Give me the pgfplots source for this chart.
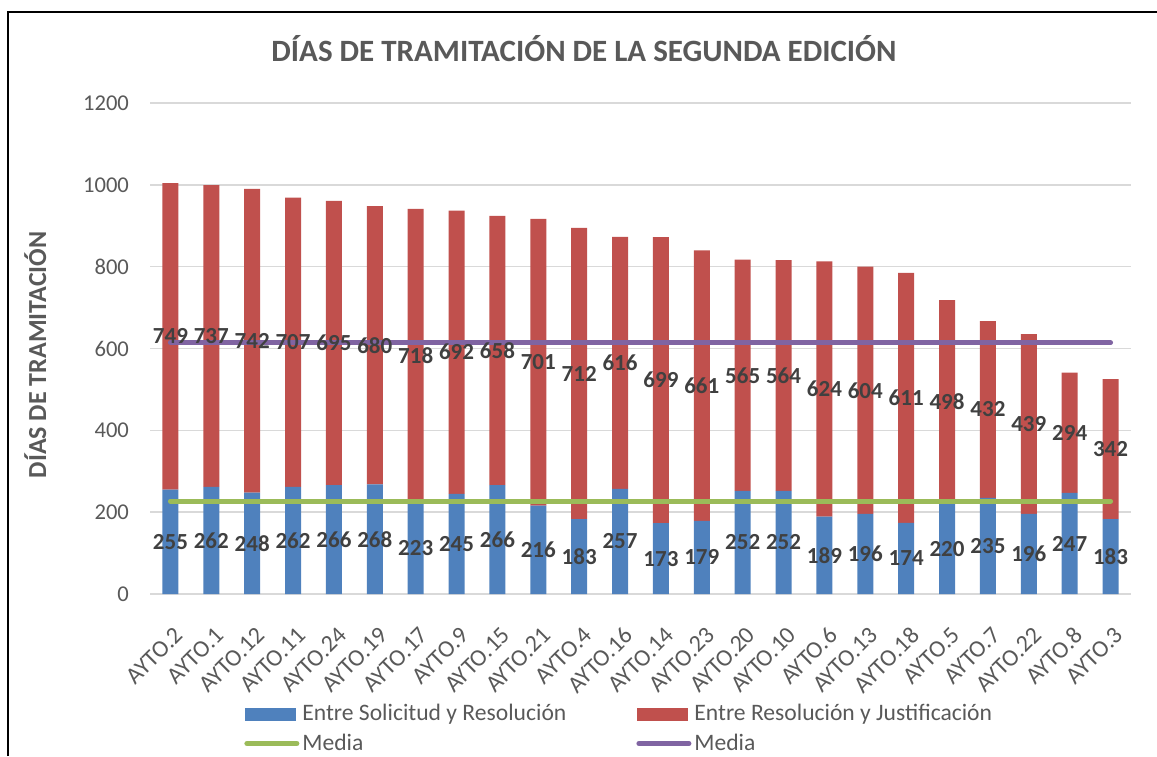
\documentclass[border=0pt]{standalone}
\usepackage{pgfplots}
\usepackage{pgfplotstable}
\pgfplotsset{compat=1.18}
\usepackage{fontspec}
\setmainfont{Carlito}

\definecolor{cblue}{HTML}{4F81BD}
\definecolor{cred}{HTML}{C0504D}
\definecolor{cgreen}{HTML}{9BBB59}
\definecolor{cpurple}{HTML}{8064A2}
\definecolor{txtgray}{HTML}{595959}
\definecolor{lblgray}{HTML}{404040}
\definecolor{gridgray}{HTML}{D9D9D9}

% dias entre solicitud-resolucion (sol) y resolucion-justificacion (jus)
\pgfplotstableread{
x name sol jus
0 AYTO.2 255 749
1 AYTO.1 262 737
2 AYTO.12 248 742
3 AYTO.11 262 707
4 AYTO.24 266 695
5 AYTO.19 268 680
6 AYTO.17 223 718
7 AYTO.9 245 692
8 AYTO.15 266 658
9 AYTO.21 216 701
10 AYTO.4 183 712
11 AYTO.16 257 616
12 AYTO.14 173 699
13 AYTO.23 179 661
14 AYTO.20 252 565
15 AYTO.10 252 564
16 AYTO.6 189 624
17 AYTO.13 196 604
18 AYTO.18 174 611
19 AYTO.5 220 498
20 AYTO.7 235 432
21 AYTO.22 196 439
22 AYTO.8 247 294
23 AYTO.3 183 342
}\datatable

\pgfplotsset{
  base/.style={at={(75pt,81pt)}, anchor=south west,
    width=490.5pt, height=245.5pt, scale only axis,
    xmin=-0.5, xmax=23.5, ymin=0, ymax=1200,
    /pgf/number format/assume math mode=true,
    /pgf/number format/1000 sep={}},
  barleg/.style={legend image code/.code={\fill[##1] (0pt,-3.25pt) rectangle (25.5pt,3.25pt);}},
  lineleg/.style={legend image code/.code={\draw[##1] (1pt,0pt) -- (26pt,0pt);}},
  seglabels/.style={
    visualization depends on=rawy\as\segval,
    nodes near coords={\pgfmathprintnumber{\segval}},
    every node near coord/.append style={anchor=center,
      font=\fontsize{11.5}{13}\bfseries, text=lblgray}},
}

\begin{document}
\begin{tikzpicture}
\path[use as bounding box] (0,0) rectangle (578.5pt,378pt);
% barras, rejilla, ejes y leyenda
\begin{axis}[
  base,
  ybar stacked, bar width=8pt,
  ytick={0,200,...,1200},
  xtick={0,...,23},
  xticklabels from table={\datatable}{name},
  ymajorgrids,
  grid style={gridgray, line width=0.75pt},
  axis line style={draw=none},
  major tick length=0pt,
  ticklabel style={font=\fontsize{11.3}{13}\selectfont, text=txtgray},
  yticklabel style={xshift=-7pt},
  xticklabel style={rotate=45, anchor=north east, inner sep=1pt, xshift=-9pt, yshift=-11pt,
    font=\fontsize{12}{14}\selectfont},
  title={DÍAS DE TRAMITACIÓN DE LA SEGUNDA EDICIÓN},
  title style={at={(axis description cs:0.4424,1.0591)}, anchor=base,
    font=\fontsize{15.5}{18}\bfseries, text=txtgray},
  ylabel={DÍAS DE TRAMITACIÓN},
  every axis y label/.style={at={(axis description cs:-0.106,0.487)}, rotate=90, anchor=base,
    font=\fontsize{13}{15}\bfseries, text=txtgray},
  legend columns=2,
  legend cell align=left,
  legend style={draw=none, fill=none, inner sep=0pt,
    at={(axis description cs:0.0958,-0.218)}, anchor=north west,
    font=\fontsize{11.8}{14}\selectfont, text=txtgray,
    nodes={inner sep=1.5pt},
    row sep=2pt,
    /tikz/every even column/.append style={column sep=33.5pt}},
]
\addplot[fill=cblue, draw=none, barleg] table[x=x, y=sol] {\datatable};
\addplot[fill=cred, draw=none, barleg] table[x=x, y=jus] {\datatable};
\addlegendimage{draw=cgreen, line width=2.5pt, line cap=round, lineleg}
\addlegendimage{draw=cpurple, line width=2.5pt, line cap=round, lineleg}
\legend{Entre Solicitud y Resolución, Entre Resolución y Justificación, Media, Media}
\end{axis}
% medias
\begin{axis}[base, hide axis]
\addplot[draw=cgreen, line width=2.5pt, line cap=round] coordinates {(0,227) (23,227)};
\addplot[draw=cpurple, line width=2.5pt, line cap=round] coordinates {(0,614) (23,614)};
\end{axis}
% etiquetas de datos
\begin{axis}[base, hide axis, ybar stacked, bar width=8pt]
\addplot[fill=none, draw=none, seglabels] table[x=x, y=sol] {\datatable};
\addplot[fill=none, draw=none, seglabels] table[x=x, y=jus] {\datatable};
\end{axis}
\draw[line width=1pt] (4pt,0pt) -- (4pt,372pt) -- (578.5pt,372pt);
\end{tikzpicture}
\end{document}
